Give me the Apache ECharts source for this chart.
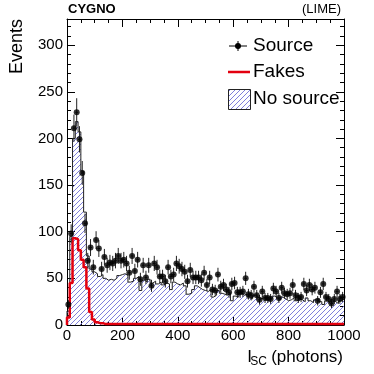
<!DOCTYPE html>
<html>
<head>
<meta charset="utf-8">
<script src="https://cdn.jsdelivr.net/npm/echarts@6/dist/echarts.min.js"></script>
<style>
html, body { margin: 0; padding: 0; background: #fff; }
#chart { width: 374px; height: 374px; }
</style>
</head>
<body>
<div id="chart"></div>
<script>
// 100 bins of 10 photons, 0 - 1000
var binWidth = 10;
var nBins = 100;

// events with source (points, poisson errors)
var source = [22, 98, 211, 228, 199, 163, 109, 69, 83, 62,
  91, 82, 60, 73, 64, 67, 66, 69, 74, 69,
  70, 66, 56, 74, 58, 70, 49, 64, 51, 64,
  42, 66, 62, 52, 52, 47, 62, 52, 54, 66,
  63, 60, 57, 47, 59, 51, 51, 51, 48, 56,
  43, 51, 38, 37, 54, 41, 43, 38, 35, 44,
  45, 35, 35, 36, 50, 33, 32, 41, 32, 27,
  36, 29, 29, 28, 39, 36, 29, 40, 34, 33,
  34, 43, 32, 29, 30, 44, 37, 43, 38, 40,
  26, 35, 44, 30, 28, 23, 28, 36, 28, 30];

// events without source (hatched histogram)
var noSource = [15, 95, 200, 218, 207, 165, 121, 74, 60, 57,
  55, 52, 54, 50, 48, 49, 48, 50, 53, 54,
  55, 53, 46, 47, 50, 52, 37, 48, 46, 49,
  45, 47, 44, 46, 43, 45, 44, 38, 46, 44,
  43, 45, 42, 33, 34, 38, 42, 40, 38, 37,
  36, 38, 30, 32, 37, 34, 33, 32, 34, 26,
  31, 30, 34, 32, 33, 29, 28, 32, 30, 28,
  29, 30, 27, 28, 31, 29, 27, 30, 28, 26,
  27, 29, 26, 28, 27, 25, 29, 26, 24, 27,
  28, 25, 22, 26, 24, 27, 25, 23, 26, 28];

// fakes (red histogram)
var fakes = [8, 45, 93, 92, 80, 70, 62, 39, 14, 6,
  3, 2, 2, 1, 1, 1, 1, 1, 1, 1,
  1, 1, 1, 1, 1, 1, 1, 1, 1, 1,
  1, 1, 1, 1, 1, 1, 1, 1, 1, 1,
  1, 1, 1, 1, 1, 1, 1, 1, 1, 1,
  1, 1, 1, 1, 1, 1, 1, 1, 1, 1,
  1, 1, 1, 1, 1, 1, 1, 1, 1, 1,
  1, 1, 1, 1, 1, 1, 1, 1, 1, 1,
  1, 1, 1, 1, 1, 1, 1, 1, 1, 1,
  1, 1, 1, 1, 1, 1, 1, 1, 1, 1];

var xTicks = [0, 200, 400, 600, 800, 1000];
var yTicks = [0, 50, 100, 150, 200, 250, 300];

var FONT = "'Liberation Sans', Arial, Helvetica, sans-serif";

// histogram outline as step line from left bin edges
function stepData(vals) {
  var out = [[0, 0]];
  for (var i = 0; i < vals.length; i++) {
    out.push([i * binWidth, vals[i]]);
  }
  out.push([nBins * binWidth, vals[vals.length - 1]]);
  return out;
}

// "///" hatch pattern
function hatch() {
  var s = 5;
  var c = document.createElement('canvas');
  c.width = s; c.height = s;
  var g = c.getContext('2d');
  g.strokeStyle = '#7070d8';
  g.lineWidth = 0.9;
  for (var k = -1; k <= 1; k++) {
    g.beginPath();
    g.moveTo(k * s, s);
    g.lineTo(k * s + s, 0);
    g.stroke();
  }
  return c;
}
var hatchImg = hatch();

var pts = [];
for (var i = 0; i < nBins; i++) {
  pts.push([i * binWidth + binWidth / 2, source[i], Math.sqrt(source[i])]);
}

var chart = echarts.init(document.getElementById('chart'));

var tickCommon = { show: true, inside: true, length: 8, lineStyle: { color: '#000', width: 1 } };
var minorCommon = { show: true, length: 4, lineStyle: { color: '#000', width: 1 } };

chart.setOption({
  animation: false,
  grid: { left: 67, right: 30, top: 19, bottom: 49 },
  xAxis: [{
    type: 'value', min: 0, max: 1000, interval: 200,
    axisLine: { onZero: false, lineStyle: { color: '#000', width: 1 } },
    axisTick: tickCommon,
    minorTick: Object.assign({ splitNumber: 4 }, minorCommon),
    splitLine: { show: false },
    axisLabel: {
      fontFamily: FONT, fontSize: 15, color: '#000', margin: 3,
      formatter: function (v) { return xTicks.indexOf(v) >= 0 ? String(v) : ''; }
    }
  }, {
    type: 'value', min: 0, max: 1000, interval: 200, position: 'top',
    axisLine: { onZero: false, lineStyle: { color: '#000', width: 1 } },
    axisTick: tickCommon,
    minorTick: Object.assign({ splitNumber: 4 }, minorCommon),
    splitLine: { show: false },
    axisLabel: { show: false }
  }],
  yAxis: [{
    type: 'value', min: 0, max: 328, interval: 50,
    axisLine: { show: true, onZero: false, lineStyle: { color: '#000', width: 1 } },
    axisTick: tickCommon,
    minorTick: Object.assign({ splitNumber: 5 }, minorCommon),
    splitLine: { show: false },
    axisLabel: {
      fontFamily: FONT, fontSize: 15, color: '#000', margin: 4,
      formatter: function (v) { return yTicks.indexOf(v) >= 0 ? String(v) : ''; }
    }
  }, {
    type: 'value', min: 0, max: 328, interval: 50, position: 'right',
    axisLine: { show: true, onZero: false, lineStyle: { color: '#000', width: 1 } },
    axisTick: tickCommon,
    minorTick: Object.assign({ splitNumber: 5 }, minorCommon),
    splitLine: { show: false },
    axisLabel: { show: false }
  }],
  series: [
    {
      name: 'No source', type: 'line', step: 'end',
      data: stepData(noSource),
      symbol: 'none',
      lineStyle: { color: '#222', width: 1 },
      areaStyle: { color: { image: hatchImg, repeat: 'repeat' }, opacity: 1 },
      z: 1
    },
    {
      name: 'Fakes', type: 'line', step: 'end',
      data: stepData(fakes),
      symbol: 'none',
      lineStyle: { color: '#e3000f', width: 2.5 },
      z: 2
    },
    {
      name: 'Source err', type: 'custom',
      data: pts,
      renderItem: function (params, api) {
        var x = api.value(0), y = api.value(1), e = api.value(2);
        var top = api.coord([x, y + e]);
        var bot = api.coord([x, y - e]);
        var l = api.coord([x - binWidth / 2, y]);
        var r = api.coord([x + binWidth / 2, y]);
        return {
          type: 'group',
          children: [
            { type: 'line', shape: { x1: top[0], y1: top[1], x2: bot[0], y2: bot[1] }, style: { stroke: '#222', lineWidth: 1 } },
            { type: 'line', shape: { x1: l[0], y1: l[1], x2: r[0], y2: r[1] }, style: { stroke: '#222', lineWidth: 1 } }
          ]
        };
      },
      z: 3
    },
    {
      name: 'Source', type: 'scatter',
      data: pts.map(function (p) { return [p[0], p[1]]; }),
      symbol: 'circle', symbolSize: 6,
      itemStyle: { color: '#000' },
      z: 4
    }
  ],
  graphic: [
    { type: 'text', left: 68, top: 3, style: { text: 'CYGNO', font: 'bold 13px ' + FONT, fill: '#000' } },
    { type: 'text', right: 33, top: 3, style: { text: '(LIME)', font: '13px ' + FONT, fill: '#000' } },
    { type: 'text', x: 17, y: 19, rotation: Math.PI / 2,
      style: { text: 'Events', font: '18px ' + FONT, fill: '#000', align: 'right', verticalAlign: 'middle' } },
    { type: 'text', x: 343, y: 357, style: { text: '(photons)', font: '17px ' + FONT, fill: '#000', align: 'right', verticalAlign: 'middle' } },
    { type: 'text', x: 267, y: 362, style: { text: 'SC', font: '12px ' + FONT, fill: '#000', align: 'right', verticalAlign: 'middle' } },
    { type: 'text', x: 252, y: 357, style: { text: 'I', font: '17px ' + FONT, fill: '#000', align: 'right', verticalAlign: 'middle' } },
    // legend
    { type: 'line', shape: { x1: 229, y1: 46, x2: 247, y2: 46 }, style: { stroke: '#000', lineWidth: 1 }, z: 10 },
    { type: 'line', shape: { x1: 238, y1: 41, x2: 238, y2: 51 }, style: { stroke: '#000', lineWidth: 1 }, z: 10 },
    { type: 'circle', shape: { cx: 238, cy: 46, r: 3 }, style: { fill: '#000' }, z: 10 },
    { type: 'text', x: 253, y: 46, style: { text: 'Source', font: '19px ' + FONT, fill: '#000', verticalAlign: 'middle' }, z: 10 },
    { type: 'line', shape: { x1: 228, y1: 72, x2: 250, y2: 72 }, style: { stroke: '#e3000f', lineWidth: 2.5 }, z: 10 },
    { type: 'text', x: 253, y: 72, style: { text: 'Fakes', font: '19px ' + FONT, fill: '#000', verticalAlign: 'middle' }, z: 10 },
    { type: 'rect', shape: { x: 228.5, y: 89.5, width: 22, height: 20 },
      style: { fill: { image: hatchImg, repeat: 'repeat' }, stroke: '#222', lineWidth: 1 }, z: 10 },
    { type: 'text', x: 253, y: 99, style: { text: 'No source', font: '19px ' + FONT, fill: '#000', verticalAlign: 'middle' }, z: 10 }
  ]
});
</script>
</body>
</html>
